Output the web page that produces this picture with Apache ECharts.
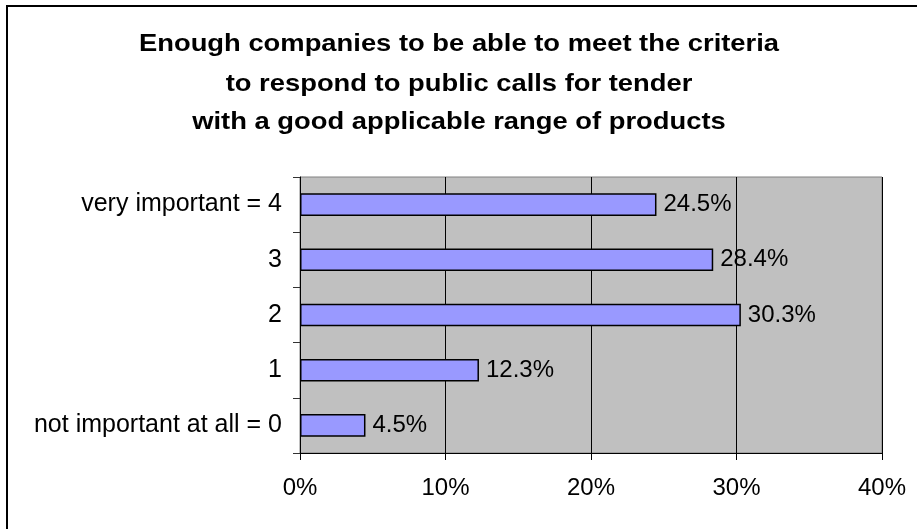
<!DOCTYPE html>
<html>
<head>
<meta charset="utf-8">
<script src="https://cdn.jsdelivr.net/npm/echarts@6/dist/echarts.min.js"></script>
<style>
  html, body { margin: 0; padding: 0; background: #fff; }
  #chart { width: 917px; height: 529px; }
</style>
</head>
<body>
<div id="chart"></div>
<script>
// Survey answers, listed from the bottom row of the chart to the top row
const categories = ['not important at all = 0', '1', '2', '3', 'very important = 4'];
const shares = [4.5, 12.3, 30.3, 28.4, 24.5];
const xTicks = [0, 10, 20, 30, 40];

const titleLines = [
  'Enough companies to be able to meet the criteria',
  'to respond to public calls for tender',
  'with a good applicable range of products'
];

const FONT = '"Liberation Sans", Arial, sans-serif';

// Title: three centred bold lines, slightly widened horizontally
const titleCenterX = 459;
const titleLineY = [44.5, 84, 122.5];
const titleGraphics = titleLines.map((line, i) => ({
  type: 'text',
  x: titleCenterX,
  y: titleLineY[i],
  scaleX: 1.14,
  style: {
    text: line,
    font: 'bold 24px ' + FONT,
    fill: '#000',
    align: 'center',
    verticalAlign: 'middle'
  },
  silent: true,
  z: 50
}));

const chart = echarts.init(document.getElementById('chart'), null, { renderer: 'canvas' });

chart.setOption({
  animation: false,
  backgroundColor: '#ffffff',
  textStyle: { fontFamily: FONT },
  graphic: [
    ...titleGraphics,
    {
      type: 'rect',
      shape: { x: 7, y: 6, width: 930, height: 540 },
      style: { fill: 'none', stroke: '#000', lineWidth: 2 },
      silent: true,
      z: 100
    }
  ],
  grid: {
    left: 300,
    right: 35,
    top: 177,
    bottom: 76,
    show: true,
    backgroundColor: '#C0C0C0',
    borderColor: '#808080',
    borderWidth: 1
  },
  xAxis: {
    type: 'value',
    min: xTicks[0],
    max: xTicks[xTicks.length - 1],
    interval: 10,
    axisLine: { show: true, lineStyle: { color: '#000', width: 1 } },
    axisTick: { show: true, length: 7, lineStyle: { color: '#000' } },
    splitLine: { show: true, lineStyle: { color: '#000', width: 1 } },
    axisLabel: {
      margin: 23,
      fontSize: 24,
      color: '#000',
      fontFamily: FONT,
      formatter: v => v + '%'
    }
  },
  yAxis: {
    type: 'category',
    data: categories,
    axisLine: { show: true, lineStyle: { color: '#000', width: 1 } },
    axisTick: { show: true, length: 7, lineStyle: { color: '#333' } },
    axisLabel: {
      margin: 18,
      fontSize: 25,
      color: '#000',
      fontFamily: FONT
    }
  },
  series: [{
    type: 'bar',
    data: shares,
    barCategoryGap: '59%',
    itemStyle: {
      color: '#9999FF',
      borderColor: '#000',
      borderWidth: 1.5
    },
    label: {
      show: true,
      position: 'right',
      distance: 7,
      fontSize: 24,
      color: '#000',
      fontFamily: FONT,
      formatter: p => p.value.toFixed(1) + '%'
    }
  }]
});
</script>
</body>
</html>
